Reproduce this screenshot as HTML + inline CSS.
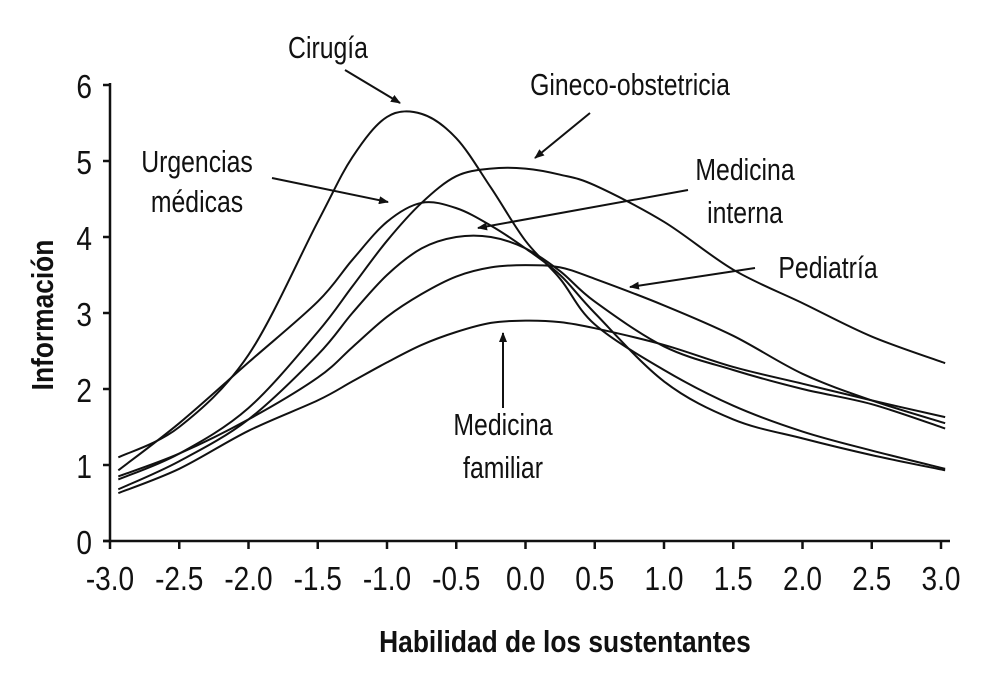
<!DOCTYPE html>
<html><head><meta charset="utf-8"><style>
html,body{margin:0;padding:0;background:#fff}
svg{display:block}
text{font-family:"Liberation Sans Narrow","Liberation Sans",sans-serif;fill:#111}
</style></head><body>
<svg id="chart" width="1000" height="683" viewBox="0 0 1000 683" xmlns="http://www.w3.org/2000/svg">
<defs><marker id="ah" markerWidth="10" markerHeight="8" refX="9" refY="4" orient="auto" markerUnits="userSpaceOnUse"><path d="M0,0 L10,4 L0,8 Z" fill="#111"/></marker></defs>
<g id="axes"></g>
<g id="series"></g>
<g id="notes"></g>
<text x="565" y="652" text-anchor="middle" font-size="31" font-weight="bold" transform="translate(565 0) scale(0.85 1) translate(-565 0)">Habilidad de los sustentantes</text>
<text x="0" y="0" text-anchor="middle" font-size="31" font-weight="bold" transform="translate(53 315) rotate(-90) scale(0.85 1)">Información</text>
</svg>
<script>
const xs = [-2.94,-2.5,-2,-1.5,-1.25,-1,-0.75,-0.5,-0.25,0,0.25,0.5,1,1.5,2,2.5,3.03];
const cirugia = [1.10,1.5,2.45,4.2,5.05,5.58,5.62,5.3,4.65,3.95,3.45,2.85,2.25,1.78,1.44,1.19,0.95];
const urgencias = [0.93,1.55,2.35,3.15,3.7,4.2,4.45,4.38,4.15,3.85,3.5,3.0,2.1,1.6,1.35,1.13,0.93];
const gineco = [0.81,1.15,1.75,2.75,3.35,3.95,4.45,4.8,4.9,4.9,4.82,4.68,4.2,3.57,3.13,2.69,2.34];
const interna = [0.68,1.05,1.6,2.45,3.0,3.5,3.85,4.0,4.0,3.85,3.55,3.15,2.56,2.25,2.0,1.8,1.48];
const pediatria = [0.85,1.15,1.6,2.15,2.55,2.95,3.25,3.48,3.6,3.63,3.6,3.45,3.1,2.7,2.2,1.85,1.55];
const familiar = [0.63,0.95,1.45,1.85,2.1,2.35,2.58,2.75,2.87,2.9,2.88,2.8,2.58,2.29,2.07,1.85,1.63];
const xTicks = ["-3.0","-2.5","-2.0","-1.5","-1.0","-0.5","0.0","0.5","1.0","1.5","2.0","2.5","3.0"];
const yTicks = ["0","1","2","3","4","5","6"];

const NS="http://www.w3.org/2000/svg";
const X=v=>525.5+v*138.5, Y=v=>541-v*76;
function mk(tag,parent,attrs){const e=document.createElementNS(NS,tag);for(const k in attrs)e.setAttribute(k,attrs[k]);parent.appendChild(e);return e;}
const axes=document.getElementById('axes');
let a=mk('line',axes,{x1:110,y1:83,x2:110,y2:541,stroke:'#111','stroke-width':2.5});


a=mk('line',axes,{x1:103,y1:541,x2:950,y2:541,stroke:'#111','stroke-width':2.5});


yTicks.forEach(t=>{const v=parseFloat(t);
 const l=mk('line',axes,{x1:103,x2:110,y1:Y(v),y2:Y(v),stroke:'#111','stroke-width':2.5});
 
 
 const tx=mk('text',axes,{x:0,y:0,'text-anchor':'end','font-size':33,transform:`translate(92 ${Y(v)+13}) scale(0.85 1)`});
 tx.textContent=t;
 
 
});
xTicks.forEach(t=>{const v=parseFloat(t);
 const l=mk('line',axes,{x1:X(v),x2:X(v),y1:541,y2:549,stroke:'#111','stroke-width':2.5});
 
 
 const tx=mk('text',axes,{x:0,y:0,'text-anchor':'middle','font-size':33,transform:`translate(${X(v)} 590) scale(0.85 1)`});
 tx.textContent=t;
 
 
});
function path(vals){const p=xs.map((x,i)=>[X(x),Y(vals[i])]);let d=`M${p[0][0]},${p[0][1]}`;
 for(let i=0;i<p.length-1;i++){const p0=p[i-1]||p[i],p1=p[i],p2=p[i+1],p3=p[i+2]||p[i+1];
  d+=` C${p1[0]+(p2[0]-p0[0])/6},${p1[1]+(p2[1]-p0[1])/6} ${p2[0]-(p3[0]-p1[0])/6},${p2[1]-(p3[1]-p1[1])/6} ${p2[0]},${p2[1]}`;}
 return d;}
const ser=document.getElementById('series');
[['cirugia',cirugia],['urgencias-medicas',urgencias],['gineco-obstetricia',gineco],['medicina-interna',interna],['pediatria',pediatria],['medicina-familiar',familiar]].forEach(([n,v])=>{
 const p=mk('path',ser,{d:path(v),fill:'none',stroke:'#111','stroke-width':2});
 
 
});
const notes=document.getElementById('notes');
const labels=[['Cirugía',328,58],['Gineco-obstetricia',630,95],['Urgencias',197,172],['médicas',197,212],['Medicina',745,180],['interna',745,223],['Pediatría',828,278],['Medicina',503,435],['familiar',503,478]];
labels.forEach(([t,x,y])=>{const e=mk('text',notes,{x:0,y:0,'text-anchor':'middle','font-size':31,transform:`translate(${x} ${y}) scale(0.8 1)`});
 e.textContent=t;
 
 
});
[[345,70,400,103],[590,113,535,158],[272,178,388,202],[688,190,478,228],[755,268,630,287],[503,408,503,333]].forEach(([x1,y1,x2,y2])=>{
 const l=mk('line',notes,{x1,y1,x2,y2,stroke:'#111','stroke-width':2,'marker-end':'url(#ah)'});
 
 
});
</script>
</body></html>
